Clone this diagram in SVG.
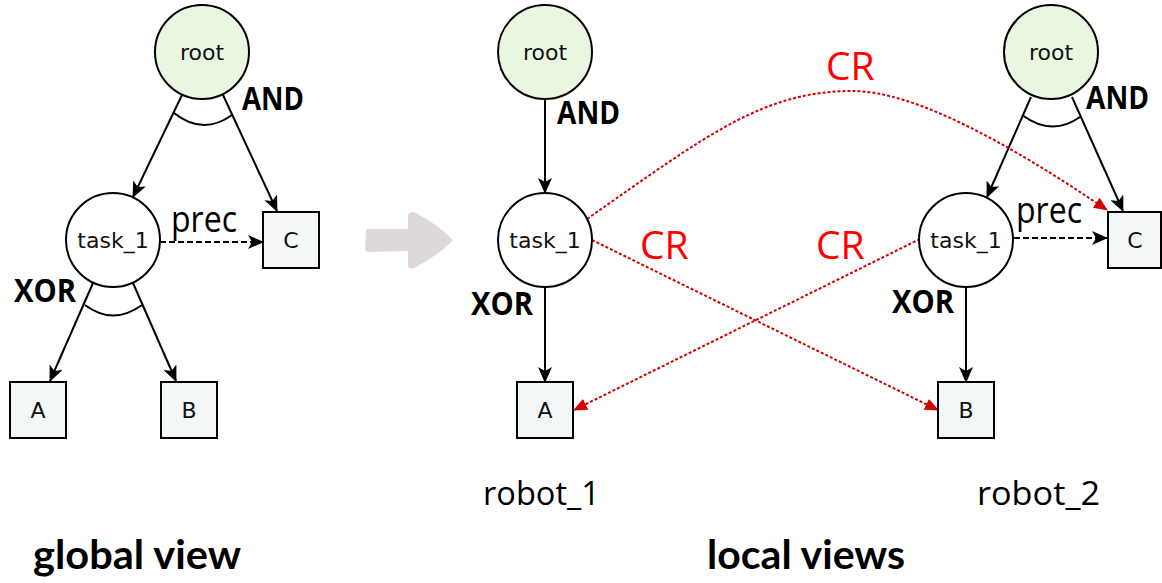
<svg xmlns="http://www.w3.org/2000/svg" width="1162" height="583" viewBox="0 0 1162 583">
<defs>
<style>
.circ{stroke:#000;stroke-width:2}
.root{fill:#E9F7E1}
.task{fill:#FFFFFF}
.box{fill:#F3F7F8;stroke:#000;stroke-width:2}
.nt{font-family:"DejaVu Sans",sans-serif;font-size:22px;fill:#111;text-anchor:middle}
.op{font-family:"Open Sans",sans-serif;font-weight:bold;font-size:33px;fill:#000}
.prec{font-family:"Open Sans",sans-serif;font-size:37px;fill:#000}
.cr{font-family:"Open Sans",sans-serif;font-size:39px;fill:#FF0000}
.rob{font-family:"Open Sans",sans-serif;font-size:33px;fill:#000}
.title{font-family:Lato,sans-serif;font-weight:bold;font-size:40px;fill:#000}
.edge{stroke:#000;stroke-width:2;fill:none}
.dash{stroke:#000;stroke-width:2;fill:none;stroke-dasharray:6 3}
.red{stroke:#D40000;stroke-width:2;fill:none;stroke-dasharray:3 2}
.arc{stroke:#000;stroke-width:2;fill:none}
</style>
<marker id="ah" viewBox="0 0 16 14" refX="15" refY="7" markerWidth="16" markerHeight="14" markerUnits="userSpaceOnUse" orient="auto">
<path d="M0,0 L16,7 L0,14 L4,7 Z" fill="#000"/>
</marker>
<marker id="ahr" viewBox="0 0 14 12" refX="13" refY="6" markerWidth="14" markerHeight="12" markerUnits="userSpaceOnUse" orient="auto">
<path d="M0,0 L14,6 L0,12 Z" fill="#D40000"/>
</marker>
</defs>
<rect width="1162" height="583" fill="#FFFFFF"/>

<g id="connectors">
<line class="edge" x1="182" y1="95" x2="133" y2="197" marker-end="url(#ah)"/>
<line class="edge" x1="223" y1="95" x2="277" y2="211" marker-end="url(#ah)"/>
<path class="arc" d="M174,113 Q203,136 232,115"/>
<line class="edge" x1="93" y1="283" x2="50" y2="381" marker-end="url(#ah)"/>
<line class="edge" x1="133" y1="283" x2="176" y2="381" marker-end="url(#ah)"/>
<path class="arc" d="M85,305 Q113,326 142,305"/>
<line class="dash" x1="160" y1="242" x2="263" y2="242" marker-end="url(#ah)"/>
<line class="edge" x1="545" y1="99" x2="545" y2="193" marker-end="url(#ah)"/>
<line class="edge" x1="545" y1="287" x2="545" y2="382" marker-end="url(#ah)"/>
<line class="edge" x1="1031" y1="97" x2="987" y2="197" marker-end="url(#ah)"/>
<line class="edge" x1="1072" y1="97" x2="1123" y2="211" marker-end="url(#ah)"/>
<path class="arc" d="M1022,115 Q1052,137 1080,117"/>
<line class="edge" x1="966" y1="287" x2="966" y2="382" marker-end="url(#ah)"/>
<line class="dash" x1="1014" y1="238" x2="1107" y2="238" marker-end="url(#ah)"/>
<path class="red" d="M587,219 C707,135 763,91 853,91 C913,91 1007,142 1107,210" marker-end="url(#ahr)"/>
<line class="red" x1="592" y1="240" x2="938" y2="410" marker-end="url(#ahr)"/>
<line class="red" x1="920" y1="239" x2="574" y2="410" marker-end="url(#ahr)"/>
</g>

<g id="g-root">
<circle class="circ root" cx="202" cy="52" r="47"/>
<text class="nt" x="202" y="60">root</text>
</g>
<g id="g-task1">
<circle class="circ task" cx="113" cy="240" r="47"/>
<text class="nt" x="113" y="248">task_1</text>
</g>
<g id="g-C">
<rect class="box" x="263" y="212" width="56" height="56"/>
<text class="nt" x="291" y="248">C</text>
</g>
<g id="g-A">
<rect class="box" x="10" y="382" width="56" height="56"/>
<text class="nt" x="38" y="418">A</text>
</g>
<g id="g-B">
<rect class="box" x="161" y="382" width="56" height="56"/>
<text class="nt" x="189" y="418">B</text>
</g>

<g id="r1-root">
<circle class="circ root" cx="545" cy="52" r="47"/>
<text class="nt" x="545" y="60">root</text>
</g>
<g id="r1-task1">
<circle class="circ task" cx="545" cy="240" r="47"/>
<text class="nt" x="545" y="248">task_1</text>
</g>
<g id="r1-A">
<rect class="box" x="517" y="382" width="56" height="56"/>
<text class="nt" x="545" y="418">A</text>
</g>

<g id="r2-root">
<circle class="circ root" cx="1051" cy="52" r="47"/>
<text class="nt" x="1051" y="60">root</text>
</g>
<g id="r2-task1">
<circle class="circ task" cx="966" cy="240" r="47"/>
<text class="nt" x="966" y="248">task_1</text>
</g>
<g id="r2-C">
<rect class="box" x="1108" y="212" width="53" height="56"/>
<text class="nt" x="1135" y="248">C</text>
</g>
<g id="r2-B">
<rect class="box" x="938" y="382" width="56" height="56"/>
<text class="nt" x="966" y="418">B</text>
</g>

<g id="labels">
<text class="op" x="242" y="110" textLength="62" lengthAdjust="spacingAndGlyphs">AND</text>
<text class="op" x="14" y="302" textLength="62" lengthAdjust="spacingAndGlyphs">XOR</text>
<text class="prec" x="171" y="232" textLength="66" lengthAdjust="spacingAndGlyphs">prec</text>
<text class="op" x="557" y="124" textLength="63" lengthAdjust="spacingAndGlyphs">AND</text>
<text class="op" x="471" y="315" textLength="62" lengthAdjust="spacingAndGlyphs">XOR</text>
<text class="op" x="1086" y="109" textLength="63" lengthAdjust="spacingAndGlyphs">AND</text>
<text class="op" x="892" y="313" textLength="62" lengthAdjust="spacingAndGlyphs">XOR</text>
<text class="prec" x="1016" y="223" textLength="66" lengthAdjust="spacingAndGlyphs">prec</text>
<text class="cr" x="826" y="80">CR</text>
<text class="cr" x="640" y="259">CR</text>
<text class="cr" x="816" y="259">CR</text>
<text class="rob" x="483" y="505" textLength="117" lengthAdjust="spacingAndGlyphs">robot_1</text>
<text class="rob" x="977" y="505" textLength="123" lengthAdjust="spacingAndGlyphs">robot_2</text>
<text class="title" x="33" y="569" textLength="208" lengthAdjust="spacingAndGlyphs">global view</text>
<text class="title" x="707" y="569" textLength="198" lengthAdjust="spacingAndGlyphs">local views</text>
</g>

<path id="transition-arrow" d="M366,232 Q365,229 369,229 L408,229 L408,215 Q410,210 416,213 Q440,226 453,240 Q440,254 416,267 Q409,271 408,265 L408,251 L369,252 Q365,252 365,248 Z" fill="#DFD8D9"/>
</svg>
